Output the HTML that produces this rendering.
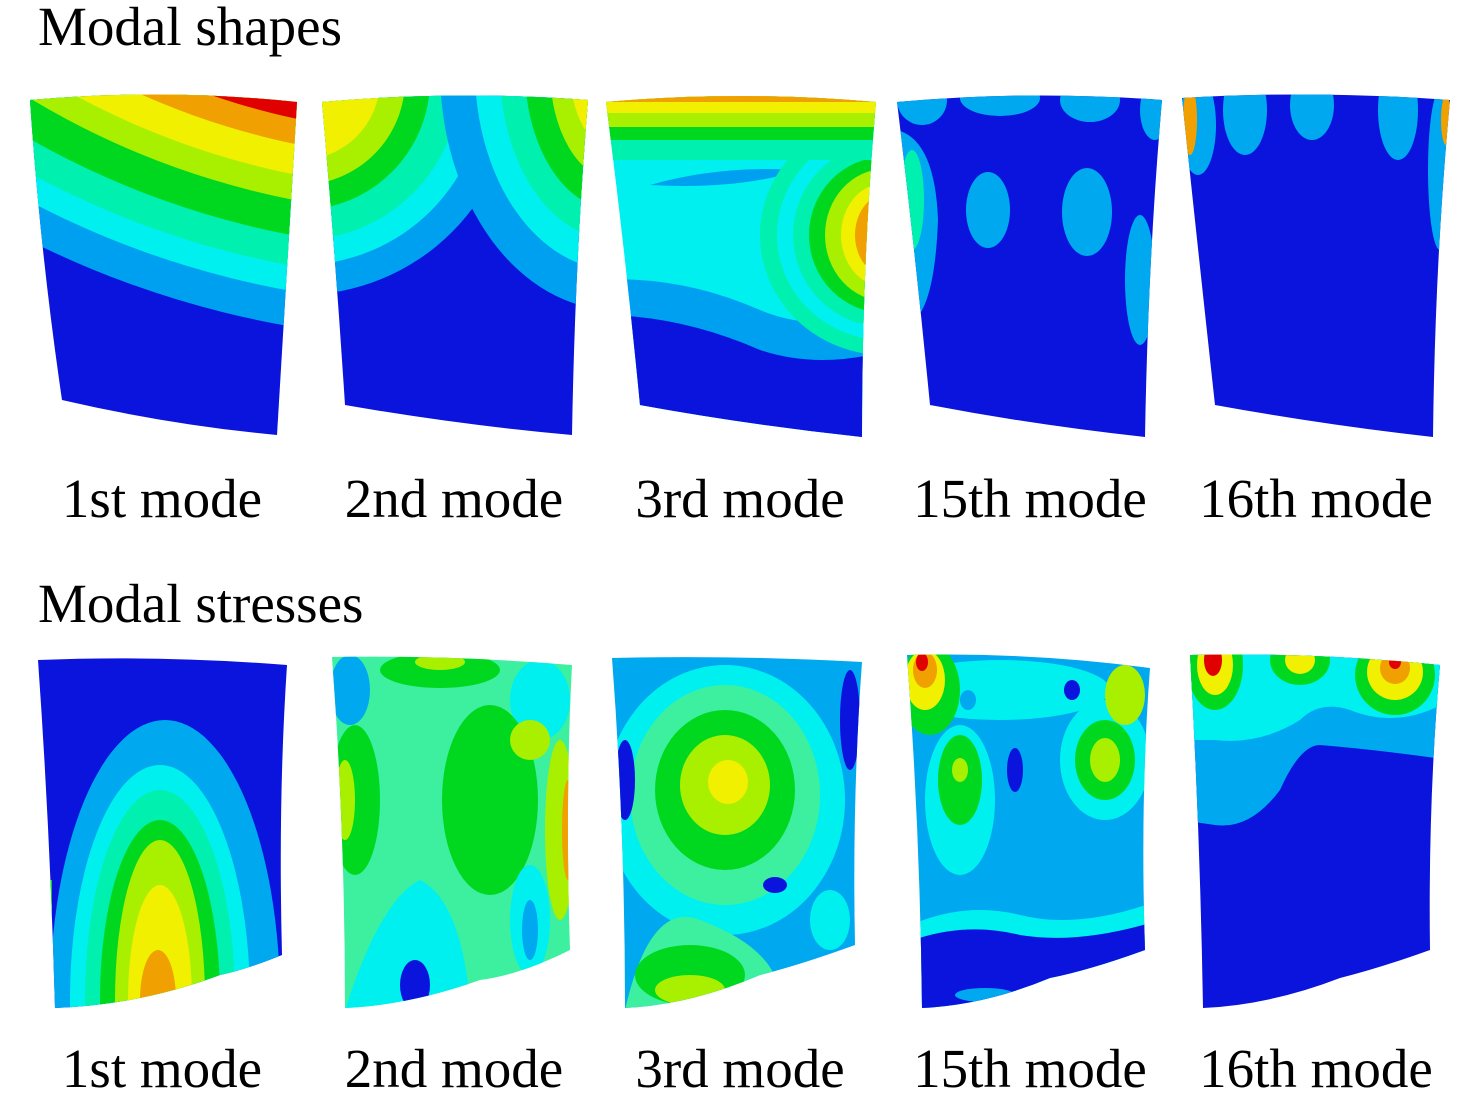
<!DOCTYPE html>
<html><head><meta charset="utf-8">
<style>
html,body{margin:0;padding:0;background:#fff;width:1476px;height:1104px;overflow:hidden;}
svg{display:block;}
text{font-family:"Liberation Serif",serif;fill:#000;}
</style></head>
<body>
<svg width="1476" height="1104" viewBox="0 0 1476 1104">
<defs>
<clipPath id="t1"><path d="M30,100 Q165,88 297,102 L277,435 Q170,425 62,400 Q40,250 30,100 Z"/></clipPath>
<clipPath id="t2"><path d="M322,102 Q455,90 588,100 Q575,260 572,435 Q460,425 345,405 Q335,250 322,102 Z"/></clipPath>
<clipPath id="t3"><path d="M606,102 Q740,90 876,102 Q862,260 862,437 Q750,425 640,405 Q625,250 606,102 Z"/></clipPath>
<clipPath id="t4"><path d="M897,102 Q1030,90 1162,100 Q1148,260 1145,437 Q1035,425 930,405 Q915,250 897,102 Z"/></clipPath>
<clipPath id="t5"><path d="M1182,98 Q1315,90 1450,100 Q1435,260 1433,437 Q1325,425 1215,405 Q1198,250 1182,98 Z"/></clipPath>
<clipPath id="b1"><path d="M38,660 Q160,655 287,665 Q278,800 282,955 Q245,970 220,975 Q140,1005 55,1008 Q50,830 38,660 Z"/></clipPath>
<clipPath id="b2"><path d="M332,657 Q450,655 572,665 Q565,800 570,950 Q520,975 480,980 Q410,1005 345,1008 Q345,830 332,657 Z"/></clipPath>
<clipPath id="b3"><path d="M612,658 Q735,655 862,662 Q852,800 855,945 Q800,965 760,975 Q690,1005 625,1008 Q625,830 612,658 Z"/></clipPath>
<clipPath id="b4"><path d="M907,655 Q1030,652 1150,668 Q1140,800 1145,950 Q1090,970 1050,978 Q985,1005 922,1008 Q920,830 907,655 Z"/></clipPath>
<clipPath id="b5"><path d="M1190,655 Q1315,652 1440,665 Q1428,800 1430,950 Q1380,968 1340,978 Q1270,1005 1203,1008 Q1200,830 1190,655 Z"/></clipPath>
</defs>

<text x="38" y="45" font-size="55">Modal shapes</text>
<text x="38" y="622" font-size="55">Modal stresses</text>

<g clip-path="url(#t1)">
<rect x="0" y="80" width="320" height="380" fill="#0a14dc"/>
<circle cx="450" cy="-600" r="940" fill="#00a0f0"/>
<circle cx="450" cy="-600" r="905" fill="#00f0f0"/>
<circle cx="450" cy="-600" r="880" fill="#00f0b0"/>
<circle cx="450" cy="-600" r="850" fill="#00d820"/>
<circle cx="450" cy="-600" r="815" fill="#a8f000"/>
<circle cx="450" cy="-600" r="790" fill="#f0f000"/>
<circle cx="450" cy="-600" r="760" fill="#f0a000"/>
<circle cx="450" cy="-600" r="735" fill="#e00000"/>
</g>
<g clip-path="url(#t2)">
<rect x="300" y="80" width="300" height="380" fill="#0a14dc"/>
<circle cx="300" cy="80" r="215" fill="#00a0f0"/>
<circle cx="300" cy="80" r="185" fill="#00f0f0"/>
<circle cx="300" cy="80" r="160" fill="#00f0b0"/>
<circle cx="300" cy="80" r="130" fill="#00d820"/>
<circle cx="300" cy="80" r="105" fill="#a8f000"/>
<circle cx="300" cy="80" r="80" fill="#f0f000"/>
<ellipse cx="615" cy="70" rx="175" ry="240" fill="#00a0f0"/>
<ellipse cx="615" cy="70" rx="140" ry="200" fill="#00f0f0"/>
<ellipse cx="615" cy="70" rx="115" ry="170" fill="#00f0b0"/>
<ellipse cx="615" cy="70" rx="90" ry="140" fill="#00d820"/>
<ellipse cx="615" cy="70" rx="65" ry="110" fill="#a8f000"/>
<ellipse cx="615" cy="70" rx="45" ry="80" fill="#f0f000"/>
<ellipse cx="615" cy="70" rx="28" ry="50" fill="#f0a000"/>
</g>
<g clip-path="url(#t3)">
<rect x="600" y="80" width="290" height="380" fill="#00f0f0"/>
<path d="M600,280 Q680,275 760,310 Q820,335 890,310 L890,460 L600,460 Z" fill="#00a0f0"/>
<path d="M600,315 Q680,315 760,350 Q820,370 890,350 L890,460 L600,460 Z" fill="#0a14dc"/>
<path d="M650,185 Q720,165 800,170 Q740,190 650,185 Z" fill="#00a0f0"/>
<ellipse cx="885" cy="235" rx="125" ry="120" fill="#00f0b0"/>
<ellipse cx="885" cy="235" rx="108" ry="105" fill="#00f0f0"/>
<ellipse cx="885" cy="235" rx="92" ry="92" fill="#00f0b0"/>
<ellipse cx="885" cy="235" rx="76" ry="78" fill="#00d820"/>
<ellipse cx="885" cy="235" rx="60" ry="66" fill="#a8f000"/>
<ellipse cx="885" cy="235" rx="44" ry="52" fill="#f0f000"/>
<ellipse cx="885" cy="235" rx="30" ry="40" fill="#f0a000"/>
<ellipse cx="885" cy="235" rx="17" ry="26" fill="#e00000"/>
<rect x="600" y="80" width="290" height="80" fill="#00f0b0"/>
<rect x="600" y="80" width="290" height="60" fill="#00d820"/>
<rect x="600" y="80" width="290" height="47" fill="#a8f000"/>
<rect x="600" y="80" width="290" height="33" fill="#f0f000"/>
<rect x="600" y="80" width="290" height="22" fill="#f0a000"/>
</g>
<g clip-path="url(#t4)">
<rect x="890" y="80" width="290" height="380" fill="#0a14dc"/>
<ellipse cx="988" cy="210" rx="22" ry="38" fill="#00a8f0"/>
<ellipse cx="1087" cy="212" rx="25" ry="44" fill="#00a8f0"/>
<path d="M897,130 Q935,140 938,220 Q935,300 915,320 L897,320 Z" fill="#00a8f0"/>
<ellipse cx="912" cy="200" rx="12" ry="50" fill="#00f0b0"/>
<ellipse cx="1140" cy="280" rx="15" ry="65" fill="#00a8f0"/>
<ellipse cx="922" cy="100" rx="25" ry="25" fill="#00a8f0"/>
<ellipse cx="1000" cy="98" rx="40" ry="18" fill="#00a8f0"/>
<ellipse cx="1090" cy="100" rx="30" ry="22" fill="#00a8f0"/>
<ellipse cx="1155" cy="110" rx="15" ry="30" fill="#00a8f0"/>
</g>
<g clip-path="url(#t5)">
<rect x="1180" y="80" width="290" height="380" fill="#0a14dc"/>
<ellipse cx="1198" cy="125" rx="18" ry="50" fill="#00a8f0"/>
<ellipse cx="1190" cy="120" rx="7" ry="35" fill="#f0a000"/>
<ellipse cx="1245" cy="110" rx="22" ry="45" fill="#00a8f0"/>
<ellipse cx="1312" cy="105" rx="22" ry="35" fill="#00a8f0"/>
<ellipse cx="1398" cy="110" rx="20" ry="50" fill="#00a8f0"/>
<ellipse cx="1440" cy="170" rx="12" ry="80" fill="#00a8f0"/>
<ellipse cx="1446" cy="120" rx="5" ry="25" fill="#f0a000"/>
</g>

<g clip-path="url(#b1)">
<rect x="30" y="640" width="270" height="380" fill="#0a14dc"/>
<ellipse cx="165" cy="1000" rx="115" ry="280" fill="#00a8f0"/>
<ellipse cx="160" cy="1000" rx="90" ry="235" fill="#00f0f0"/>
<ellipse cx="160" cy="1000" rx="75" ry="210" fill="#00f0b0"/>
<ellipse cx="160" cy="1000" rx="60" ry="180" fill="#00d820"/>
<ellipse cx="160" cy="1000" rx="45" ry="160" fill="#a8f000"/>
<ellipse cx="160" cy="1000" rx="32" ry="115" fill="#f0f000"/>
<ellipse cx="158" cy="1000" rx="18" ry="50" fill="#f0a000"/>
<rect x="38" y="880" width="14" height="130" fill="#00d820"/>
</g>
<g clip-path="url(#b2)">
<rect x="320" y="640" width="260" height="380" fill="#3cf0a0"/>
<ellipse cx="350" cy="690" rx="20" ry="35" fill="#00a8f0"/>
<ellipse cx="540" cy="700" rx="30" ry="40" fill="#00f0f0"/>
<ellipse cx="440" cy="670" rx="60" ry="18" fill="#00d820"/>
<ellipse cx="440" cy="662" rx="25" ry="8" fill="#a8f000"/>
<ellipse cx="490" cy="800" rx="48" ry="95" fill="#00d820"/>
<ellipse cx="530" cy="740" rx="20" ry="20" fill="#a8f000"/>
<ellipse cx="355" cy="800" rx="25" ry="75" fill="#00d820"/>
<ellipse cx="345" cy="800" rx="10" ry="40" fill="#a8f000"/>
<ellipse cx="560" cy="830" rx="15" ry="90" fill="#a8f000"/>
<ellipse cx="568" cy="830" rx="6" ry="50" fill="#f0a000"/>
<path d="M345,1010 Q380,900 420,880 Q460,900 470,1000 Z" fill="#00f0f0"/>
<ellipse cx="415" cy="985" rx="15" ry="25" fill="#0a14dc"/>
<ellipse cx="530" cy="920" rx="20" ry="55" fill="#00f0f0"/>
<ellipse cx="530" cy="930" rx="8" ry="30" fill="#00a8f0"/>
</g>
<g clip-path="url(#b3)">
<rect x="600" y="640" width="270" height="380" fill="#00a8f0"/>
<ellipse cx="725" cy="800" rx="120" ry="135" fill="#00f0f0"/>
<ellipse cx="725" cy="795" rx="95" ry="110" fill="#3cf0a0"/>
<ellipse cx="725" cy="790" rx="70" ry="80" fill="#00d820"/>
<ellipse cx="725" cy="785" rx="45" ry="50" fill="#a8f000"/>
<ellipse cx="728" cy="782" rx="20" ry="22" fill="#f0f000"/>
<path d="M625,1010 Q650,900 700,920 Q780,950 780,1000 Z" fill="#3cf0a0"/>
<ellipse cx="690" cy="975" rx="55" ry="30" fill="#00d820"/>
<ellipse cx="690" cy="990" rx="35" ry="15" fill="#a8f000"/>
<ellipse cx="775" cy="885" rx="12" ry="8" fill="#0a14dc"/>
<ellipse cx="625" cy="780" rx="10" ry="40" fill="#0a14dc"/>
<ellipse cx="850" cy="720" rx="10" ry="50" fill="#0a14dc"/>
<ellipse cx="830" cy="920" rx="20" ry="30" fill="#00f0f0"/>
</g>
<g clip-path="url(#b4)">
<rect x="900" y="640" width="260" height="380" fill="#00a8f0"/>
<path d="M900,930 Q960,900 1020,915 Q1080,930 1160,900 L1160,1020 L900,1020 Z" fill="#00f0f0"/>
<path d="M900,945 Q960,920 1020,935 Q1080,945 1160,920 L1160,1020 L900,1020 Z" fill="#0a14dc"/>
<ellipse cx="985" cy="995" rx="30" ry="7" fill="#00a8f0"/>
<ellipse cx="1000" cy="690" rx="110" ry="30" fill="#00f0f0"/>
<ellipse cx="930" cy="690" rx="30" ry="45" fill="#00d820"/>
<ellipse cx="925" cy="680" rx="20" ry="30" fill="#f0f000"/>
<ellipse cx="925" cy="670" rx="12" ry="18" fill="#f0a000"/>
<ellipse cx="922" cy="662" rx="6" ry="9" fill="#e00000"/>
<ellipse cx="960" cy="800" rx="35" ry="75" fill="#00f0f0"/>
<ellipse cx="960" cy="780" rx="22" ry="45" fill="#00d820"/>
<ellipse cx="960" cy="770" rx="8" ry="12" fill="#a8f000"/>
<ellipse cx="1105" cy="760" rx="45" ry="60" fill="#00f0f0"/>
<ellipse cx="1105" cy="760" rx="30" ry="40" fill="#00d820"/>
<ellipse cx="1105" cy="760" rx="15" ry="22" fill="#a8f000"/>
<ellipse cx="1125" cy="695" rx="20" ry="30" fill="#a8f000"/>
<ellipse cx="1072" cy="690" rx="8" ry="10" fill="#0a14dc"/>
<ellipse cx="1015" cy="770" rx="8" ry="22" fill="#0a14dc"/>
<ellipse cx="968" cy="700" rx="8" ry="10" fill="#00a8f0"/>
</g>
<g clip-path="url(#b5)">
<rect x="1180" y="640" width="270" height="380" fill="#0a14dc"/>
<path d="M1180,640 L1450,640 L1450,760 Q1380,750 1320,745 Q1300,745 1280,790 Q1250,830 1215,825 L1180,820 Z" fill="#00a8f0"/>
<path d="M1180,640 L1450,640 L1450,700 Q1400,730 1350,710 Q1320,700 1300,720 Q1260,745 1215,740 L1180,740 Z" fill="#00f0f0"/>
<ellipse cx="1215" cy="665" rx="28" ry="45" fill="#00d820"/>
<ellipse cx="1215" cy="665" rx="18" ry="30" fill="#f0f000"/>
<ellipse cx="1213" cy="660" rx="9" ry="16" fill="#e00000"/>
<ellipse cx="1300" cy="660" rx="30" ry="25" fill="#00d820"/>
<ellipse cx="1300" cy="660" rx="15" ry="14" fill="#f0f000"/>
<ellipse cx="1395" cy="675" rx="40" ry="40" fill="#00d820"/>
<ellipse cx="1395" cy="672" rx="28" ry="28" fill="#f0f000"/>
<ellipse cx="1395" cy="668" rx="15" ry="16" fill="#f0a000"/>
<ellipse cx="1395" cy="662" rx="6" ry="7" fill="#e00000"/>
</g>

<g font-size="55" text-anchor="middle">
<text x="162" y="517">1st mode</text>
<text x="454" y="517">2nd mode</text>
<text x="740" y="517">3rd mode</text>
<text x="1030" y="517">15th mode</text>
<text x="1316" y="517">16th mode</text>
</g>
<g font-size="55" text-anchor="middle">
<text x="162" y="1087">1st mode</text>
<text x="454" y="1087">2nd mode</text>
<text x="740" y="1087">3rd mode</text>
<text x="1030" y="1087">15th mode</text>
<text x="1316" y="1087">16th mode</text>
</g>
</svg>
</body></html>
